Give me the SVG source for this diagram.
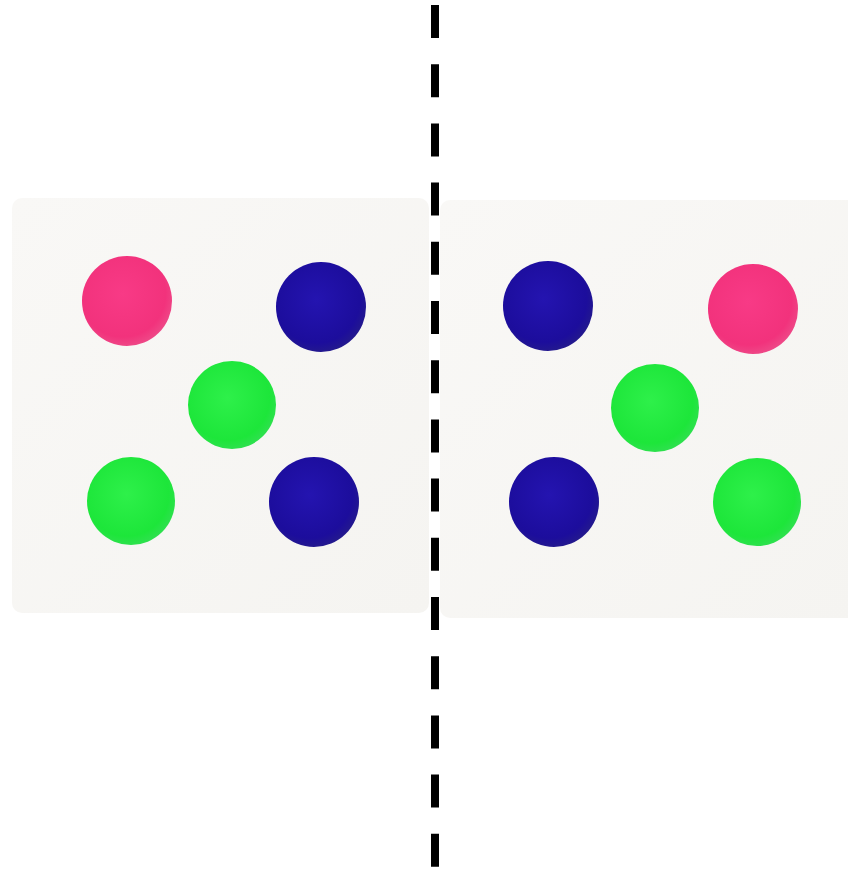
<svg xmlns="http://www.w3.org/2000/svg" width="848" height="870" viewBox="0 0 848 870">
<defs>
<radialGradient id="gPink" cx="0.45" cy="0.42" r="0.6">
<stop offset="0" stop-color="#f83a86"/><stop offset="0.8" stop-color="#f2327c"/><stop offset="1" stop-color="#ee4a88"/>
</radialGradient>
<radialGradient id="gBlue" cx="0.45" cy="0.42" r="0.6">
<stop offset="0" stop-color="#2414b0"/><stop offset="0.8" stop-color="#1c0d9c"/><stop offset="1" stop-color="#241a8c"/>
</radialGradient>
<radialGradient id="gGreen" cx="0.45" cy="0.42" r="0.6">
<stop offset="0" stop-color="#2ef04a"/><stop offset="0.8" stop-color="#1de63a"/><stop offset="1" stop-color="#30e050"/>
</radialGradient>
<linearGradient id="gBoard" x1="0" y1="0" x2="1" y2="1">
<stop offset="0" stop-color="#f9f8f6"/><stop offset="1" stop-color="#f5f4f1"/>
</linearGradient>
</defs>
<style>
.board{fill:url(#gBoard);}
.pink{fill:url(#gPink);}
.blue{fill:url(#gBlue);}
.green{fill:url(#gGreen);}
.dash{stroke:#000;stroke-width:8;stroke-dasharray:33 26.2;fill:none;}
</style>
<rect width="848" height="870" fill="#ffffff"/>
<g id="board-left">
<rect class="board" x="12" y="198" width="417" height="415" rx="10"/>
<circle class="pink" cx="127" cy="301" r="45"/>
<circle class="blue" cx="321" cy="307" r="45"/>
<circle class="green" cx="232" cy="405" r="44"/>
<circle class="green" cx="131" cy="501" r="44"/>
<circle class="blue" cx="314" cy="502" r="45"/>
</g>
<g id="board-right">
<rect class="board" x="440" y="200" width="420" height="418" rx="10"/>
<circle class="blue" cx="548" cy="306" r="45"/>
<circle class="pink" cx="753" cy="309" r="45"/>
<circle class="green" cx="655" cy="408" r="44"/>
<circle class="blue" cx="554" cy="502" r="45"/>
<circle class="green" cx="757" cy="502" r="44"/>
</g>
<g id="divider">
<line class="dash" x1="435" y1="5" x2="435" y2="870"/>
</g>
</svg>
